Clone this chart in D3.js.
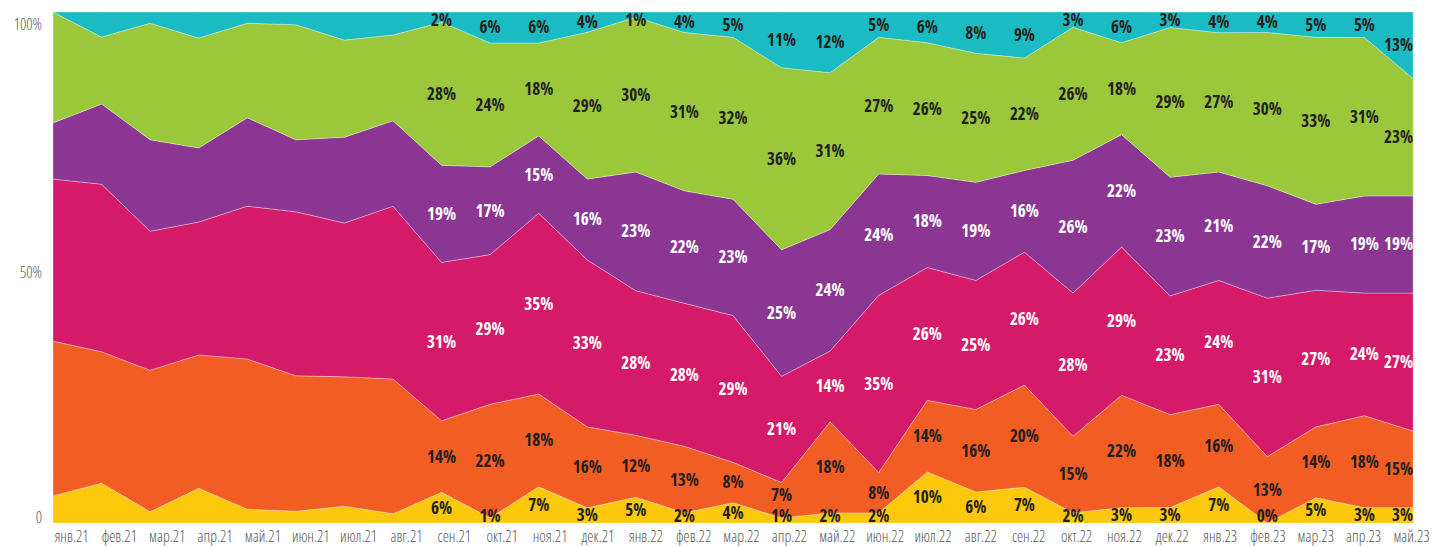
<!DOCTYPE html>
<html>
<head>
<meta charset="utf-8">
<script src="https://cdn.jsdelivr.net/npm/d3@7"></script>
<style>
  body { margin: 0; background: #fff; }
  text { font-family: "Open Sans", "Roboto", sans-serif; font-stretch: 75%; }
</style>
</head>
<body>
<script>
let w = 1432;
let h = 547;

const months = ["янв.21", "фев.21", "мар.21", "апр.21", "май.21", "июн.21", "июл.21", "авг.21",
  "сен.21", "окт.21", "ноя.21", "дек.21", "янв.22", "фев.22", "мар.22", "апр.22", "май.22",
  "июн.22", "июл.22", "авг.22", "сен.22", "окт.22", "ноя.22", "дек.22", "янв.23", "фев.23",
  "мар.23", "апр.23", "май.23"];

// shares in %, bottom layer first; first 8 months read off the boundaries (no labels there)
const yellow = [5.3, 7.8, 2.2, 6.8, 2.7, 2.3, 3.3, 1.8,
  6, 1, 7, 3, 5, 2, 4, 1, 2, 2, 10, 6, 7, 2, 3, 3, 7, 0, 5, 3, 3];
const orange = [30.3, 25.7, 27.7, 26.1, 29.4, 26.5, 25.3, 26.4,
  14, 22, 18, 16, 12, 13, 8, 7, 18, 8, 14, 16, 20, 15, 22, 18, 16, 13, 14, 18, 15];
const crimson = [31.7, 32.8, 27.2, 26.0, 29.9, 32.1, 30.1, 33.8,
  31, 29, 35, 33, 28, 28, 29, 21, 14, 35, 26, 25, 26, 28, 29, 23, 24, 31, 27, 24, 27];
const purple = [11.0, 15.7, 17.9, 14.5, 17.3, 14.1, 16.8, 16.7,
  19, 17, 15, 16, 23, 22, 23, 25, 24, 24, 18, 19, 16, 26, 22, 23, 21, 22, 17, 19, 19];
const green = [21.7, 13.1, 22.8, 21.5, 18.5, 22.5, 19.0, 16.8,
  28, 24, 18, 29, 30, 31, 32, 36, 31, 27, 26, 25, 22, 26, 18, 29, 27, 30, 33, 31, 23];
const cyan = [0, 4.9, 2.2, 5.1, 2.2, 2.5, 5.5, 4.5,
  2, 6, 6, 4, 1, 4, 5, 11, 12, 5, 6, 8, 9, 3, 6, 3, 4, 4, 5, 5, 13];

const firstLabelled = "сен.21";
const yTicks = [0, 0.5, 1];

const keys = ["yellow", "orange", "crimson", "purple", "green", "cyan"];
const series = [yellow, orange, crimson, purple, green, cyan];
const colors = d3.scaleOrdinal().domain(keys)
  .range(["#fcc80b", "#f15d22", "#d41a68", "#8b3692", "#9bc73b", "#1bbbc3"]);
const labelColor = { yellow: "#231f20", orange: "#231f20", crimson: "#fff", purple: "#fff", green: "#231f20", cyan: "#231f20" };

let rows = months.map((m, i) => {
  let r = { month: m, idx: i };
  keys.forEach((k, j) => (r[k] = series[j][i]));
  return r;
});

let margin = { left: 53, right: 19, top: 12, bottom: 24 };

let svg = d3.select("body").append("svg").attr("width", w).attr("height", h);

let xScale = d3.scalePoint().domain(months).range([margin.left, w - margin.right]);
// tick labels are spread a little inward so the outer ones fit
let xLabelScale = d3.scalePoint().domain(months).range([margin.left + 18, w - margin.right - 2]);
let yScale = d3.scaleLinear().domain([0, 1]).range([h - margin.bottom, margin.top]);

let stacked = d3.stack().keys(keys).offset(d3.stackOffsetExpand)(rows);

let area = d3.area()
  .x((d) => xScale(d.data.month))
  .y0((d) => yScale(d[0]))
  .y1((d) => yScale(d[1]));

svg.append("g")
  .selectAll("path")
  .data(stacked)
  .enter()
  .append("path")
  .attr("d", area)
  .attr("fill", (d) => colors(d.key))
  .attr("stroke", "rgba(255,255,255,0.45)")
  .attr("stroke-width", 0.7);

// value labels: band middle, kept inside the plot and clear of the label below
let start = months.indexOf(firstLabelled);
let last = months.length - 1;
let prevY = months.map(() => Infinity);
stacked.forEach((layer) => {
  let pts = layer.filter((d) => d.data.idx >= start);
  pts.forEach((d) => {
    let ym = yScale((d[0] + d[1]) / 2);
    ym = Math.min(ym, yScale(0) - 7, prevY[d.data.idx] - 21);
    ym = Math.max(ym, yScale(1) + 8);
    d.ly = ym;
    prevY[d.data.idx] = ym;
  });
  svg.append("g")
    .selectAll("text")
    .data(pts)
    .enter()
    .append("text")
    .attr("x", (d) => xScale(d.data.month))
    .attr("y", (d) => d.ly)
    .attr("dy", "0.35em")
    .attr("text-anchor", (d) => (d.data.idx === last ? "end" : "middle"))
    .attr("fill", labelColor[layer.key])
    .style("font-size", "17px")
    .style("font-weight", "bold")
    .text((d) => d.data[layer.key] + "%");
});

// x axis labels
let xAxis = d3.axisBottom(xLabelScale).tickSize(0).tickPadding(0);
let gx = svg.append("g")
  .attr("transform", "translate(0," + (h - margin.bottom) + ")")
  .call(xAxis);
gx.select(".domain").remove();
gx.selectAll("text")
  .attr("dy", "1.2em")
  .attr("fill", "#58595b")
  .style("font-size", "15.5px")
  .style("font-weight", 300);

// y axis labels
let yAxis = d3.axisLeft(yScale)
  .tickValues(yTicks)
  .tickSize(0)
  .tickPadding(11)
  .tickFormat((d) => (d === 0 ? "0" : d3.format(".0%")(d)));
let gy = svg.append("g")
  .attr("transform", "translate(" + margin.left + ",0)")
  .call(yAxis);
gy.select(".domain").remove();
gy.selectAll("text")
  .attr("dy", (d) => (d === 1 ? "1.1em" : d === 0 ? "-0.05em" : "0.65em"))
  .attr("fill", "#58595b")
  .style("font-size", "15.5px")
  .style("font-weight", 300);

// thin right edge
svg.append("line")
  .attr("x1", w - margin.right + 0.5)
  .attr("x2", w - margin.right + 0.5)
  .attr("y1", margin.top)
  .attr("y2", h - margin.bottom)
  .attr("stroke", "#e6e6e6");
</script>
</body>
</html>
